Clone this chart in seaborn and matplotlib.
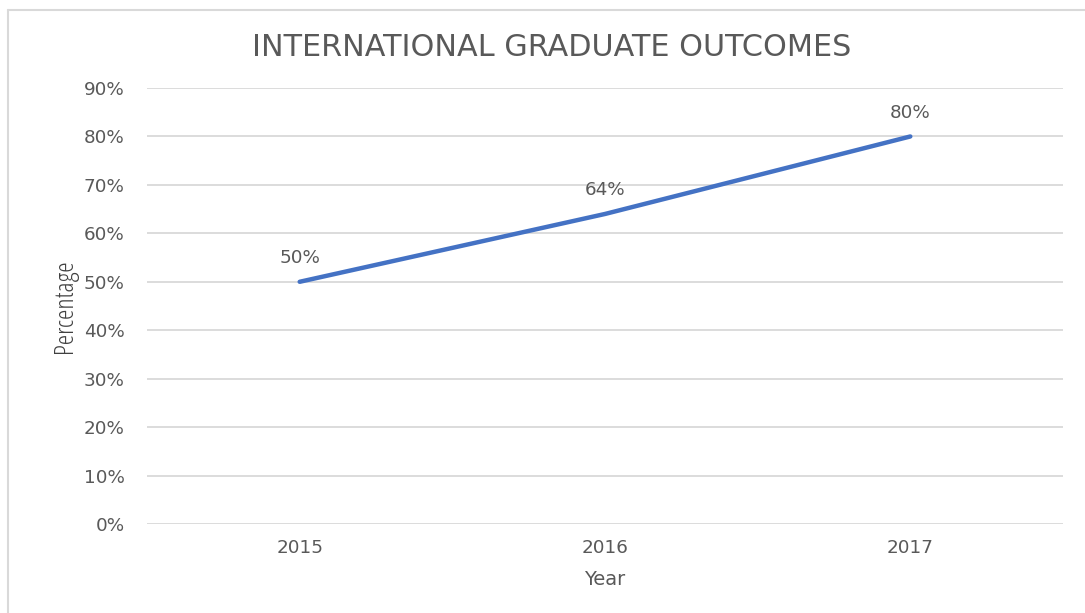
import matplotlib
matplotlib.use("Agg")
import matplotlib.pyplot as plt
import seaborn as sns
import pandas as pd
from matplotlib.ticker import PercentFormatter

years = ["2015", "2016", "2017"]
outcomes = [0.50, 0.64, 0.80]
y_ticks = [0.0, 0.1, 0.2, 0.3, 0.4, 0.5, 0.6, 0.7, 0.8, 0.9]

sns.set_style("white")
plt.rcParams['font.family'] = ['DejaVu Sans']
grey = "#595959"

df = pd.DataFrame({"Year": years, "Percentage": outcomes})

fig = plt.figure(figsize=(10.85, 6.13), dpi=100)
ax = fig.add_axes([0.1355, 0.1452, 0.9797 - 0.1355, 0.8564 - 0.1452])

sns.lineplot(data=df, x="Year", y="Percentage", ax=ax, color="#4472C4",
             linewidth=3.2, solid_capstyle="round", sort=False)

for i, v in enumerate(outcomes):
    ax.annotate(f"{v:.0%}", (i, v), xytext=(0, 10.5), textcoords="offset points",
                ha="center", va="bottom", fontsize=13.2, color=grey)

ax.set_xlim(-0.5, 2.5)
ax.set_ylim(0, 0.9)
ax.set_yticks(y_ticks)
ax.yaxis.set_major_formatter(PercentFormatter(1.0, decimals=0))
ax.grid(axis="y", color="#d9d9d9", linewidth=1.3)
ax.set_axisbelow(True)
for s in ax.spines.values():
    s.set_visible(False)
ax.tick_params(axis="both", length=0, labelsize=13.2, labelcolor=grey)
ax.tick_params(axis="y", pad=16)
ax.tick_params(axis="x", pad=11)

ax.set_xlabel("Year", fontsize=14, color=grey, labelpad=9)
ax.set_ylabel("Percentage", fontsize=19, color="#404040", labelpad=4,
              family="Open Sans", fontstretch="condensed")
# title is centred on the whole chart box, not on the plot area
ax.set_title("INTERNATIONAL GRADUATE OUTCOMES", fontsize=21.8, color=grey,
             pad=23, x=0.442)

# outer chart border (only top and left visible in the crop)
fig.add_artist(plt.Line2D([8 / 1085, 1], [1 - 10 / 613, 1 - 10 / 613],
                          transform=fig.transFigure, color="#d9d9d9", linewidth=1.5))
fig.add_artist(plt.Line2D([8 / 1085, 8 / 1085], [0, 1 - 10 / 613],
                          transform=fig.transFigure, color="#d9d9d9", linewidth=1.5))

fig.savefig("out.png", dpi=100)
